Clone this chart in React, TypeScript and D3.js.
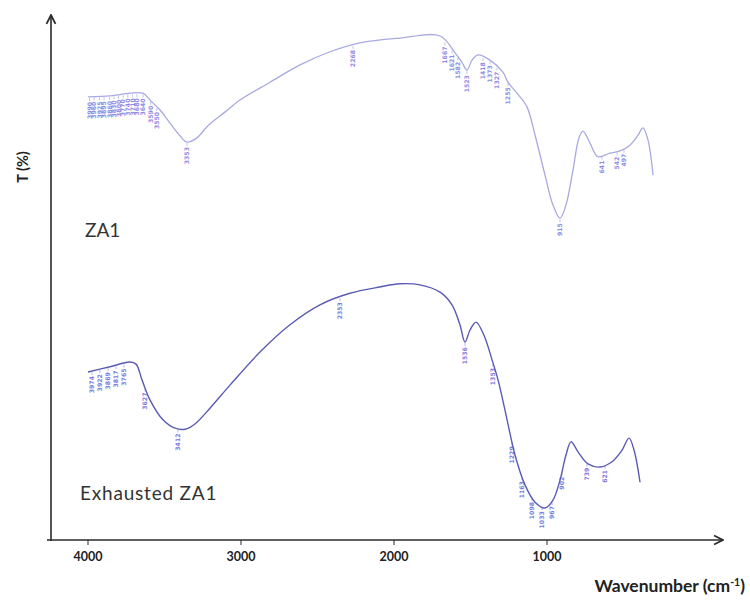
import React from "react";
import * as d3 from "d3";

// FTIR transmittance spectra (wavenumber in cm-1, transmittance in arbitrary %)
const za1Wavenumber = [4000, 3856, 3725, 3641, 3595, 3529, 3464, 3399, 3353, 3288, 3216, 3105, 3007, 2810, 2614, 2418, 2222, 1961, 1699, 1601, 1556, 1523, 1490, 1451, 1373, 1288, 1255, 1196, 1131, 1078, 1013, 961, 915, 876, 830, 791, 765, 719, 667, 588, 523, 458, 405, 373, 340, 307];
const za1Transmittance = [84.4, 84.6, 85.1, 85.1, 83.8, 81.9, 79.4, 77.0, 75.8, 76.6, 78.9, 81.5, 83.8, 87.2, 90.5, 93.0, 94.7, 95.6, 96.0, 92.8, 91.0, 89.5, 91.4, 92.4, 91.4, 89.1, 87.2, 85.1, 82.5, 77.1, 69.5, 63.8, 61.3, 63.8, 70.5, 76.6, 77.9, 75.6, 73.0, 73.7, 74.1, 75.2, 77.1, 78.5, 76.2, 69.5];

const exhWavenumber = [4000, 3856, 3725, 3686, 3647, 3595, 3510, 3431, 3366, 3301, 3203, 3072, 2876, 2680, 2484, 2288, 2092, 1961, 1830, 1699, 1621, 1569, 1536, 1503, 1464, 1412, 1359, 1320, 1275, 1209, 1144, 1078, 1013, 961, 915, 876, 843, 797, 732, 654, 575, 510, 464, 431, 392];
const exhTransmittance = [32.0, 33.0, 33.9, 33.5, 30.5, 26.7, 22.9, 21.3, 21.1, 22.1, 25.1, 29.5, 35.8, 41.0, 44.8, 47.0, 48.2, 48.8, 48.6, 47.2, 44.8, 41.0, 37.7, 40.0, 41.5, 39.0, 34.3, 30.5, 24.8, 16.2, 10.5, 7.2, 6.1, 7.6, 11.4, 16.2, 18.7, 16.8, 14.5, 13.9, 14.9, 17.1, 19.4, 17.1, 11.0];

// Peak annotations (wavenumbers)
const za1Peaks = [3990, 3960, 3925, 3895, 3860, 3830, 3800, 3770, 3740, 3710, 3680, 3640, 3590, 3550, 3353, 2268, 1667, 1621, 1582, 1523, 1418, 1373, 1327, 1255, 915, 641, 542, 497];
const exhPeaks = [3974, 3922, 3869, 3817, 3765, 3627, 3412, 2353, 1536, 1353, 1229, 1163, 1098, 1033, 967, 902, 739, 621];

const xTicks = [4000, 3000, 2000, 1000];

const W = 750;
const H = 607;
const x = d3.scaleLinear().domain([4000, 1000]).range([88, 547]);
const y = d3.scaleLinear().domain([0, 100]).range([540, 15]);

function series(wn: number[], t: number[]) {
  return wn.map((w, i) => ({ w, t: t[i] }));
}

function valueAt(data: { w: number; t: number }[], w: number) {
  for (let i = 0; i < data.length - 1; i++) {
    const a = data[i], b = data[i + 1];
    if (w <= a.w && w >= b.w) {
      const f = (a.w - w) / (a.w - b.w || 1);
      return a.t + f * (b.t - a.t);
    }
  }
  return data[data.length - 1].t;
}

const line = d3
  .line<{ w: number; t: number }>()
  .x((d) => x(d.w))
  .y((d) => y(d.t))
  .curve(d3.curveCatmullRom.alpha(0.5));

function PeakLabels({ data, peaks, color }: { data: { w: number; t: number }[]; peaks: number[]; color: string }) {
  return (
    <g>
      {peaks.map((p, i) => {
        const px = x(p);
        const py = y(valueAt(data, p));
        const top = py + 4;
        return (
          <g key={i}>
            <line x1={px} x2={px} y1={py + 1} y2={top} stroke={color} strokeWidth={0.6} opacity={0.7} />
            <text
              transform={`translate(${px + 2.2},${top + 1}) rotate(-90)`}
              textAnchor="end"
              fontSize={6.2}
              fontWeight={700}
              fontFamily="DejaVu Sans, sans-serif"
              fill={color}
              opacity={0.8}
            >
              {p}
            </text>
          </g>
        );
      })}
    </g>
  );
}

export default function App() {
  const za1 = series(za1Wavenumber, za1Transmittance);
  const exh = series(exhWavenumber, exhTransmittance);
  const axisColor = "#2b2b2b";
  const font = "Lato, 'Open Sans', sans-serif";
  return (
    <svg width={W} height={H} style={{ position: "absolute", left: 0, top: 0, background: "#fff" }}>
      <defs>
        <marker id="arrow" viewBox="0 0 10 10" refX="9" refY="5" markerWidth="7" markerHeight="7" orient="auto">
          <path d="M1,1 L9,5 L1,9" fill="none" stroke={axisColor} strokeWidth={1.6} />
        </marker>
      </defs>

      {/* axes */}
      <line x1={51} x2={51} y1={541} y2={15} stroke={axisColor} strokeWidth={1.6} markerEnd="url(#arrow)" />
      <line x1={47} x2={723} y1={540} y2={540} stroke={axisColor} strokeWidth={1.6} markerEnd="url(#arrow)" />
      {xTicks.map((t) => (
        <g key={t}>
          <line x1={x(t)} x2={x(t)} y1={540} y2={545} stroke={axisColor} strokeWidth={1} />
          <text x={x(t)} y={561} textAnchor="middle" fontFamily={font} fontWeight={700} fontSize={12.5} fill="#222">
            {t}
          </text>
        </g>
      ))}

      <text
        transform="translate(28,167) rotate(-90)"
        textAnchor="middle"
        fontFamily={font}
        fontWeight={700}
        fontSize={14.5}
        fill="#222"
      >
        T (%)
      </text>
      <text x={745} y={592} textAnchor="end" fontFamily={font} fontWeight={700} fontSize={17.5} fill="#222">
        Wavenumber (cm
        <tspan dy={-6} fontSize={10.5}>-1</tspan>
        <tspan dy={6}>)</tspan>
      </text>

      {/* spectra */}
      <path d={line(za1) ?? ""} fill="none" stroke="#a9a9e2" strokeWidth={1.3} />
      <path d={line(exh) ?? ""} fill="none" stroke="#5b5bb5" strokeWidth={1.4} />

      <PeakLabels data={za1} peaks={za1Peaks} color="#6f6fe0" />
      <PeakLabels data={exh} peaks={exhPeaks} color="#5a5ad6" />

      <text x={85} y={237} fontFamily={font} fontSize={19} fill="#333">ZA1</text>
      <text x={80} y={500} fontFamily={font} fontSize={19} fill="#333" letterSpacing={0.8}>Exhausted ZA1</text>
    </svg>
  );
}
